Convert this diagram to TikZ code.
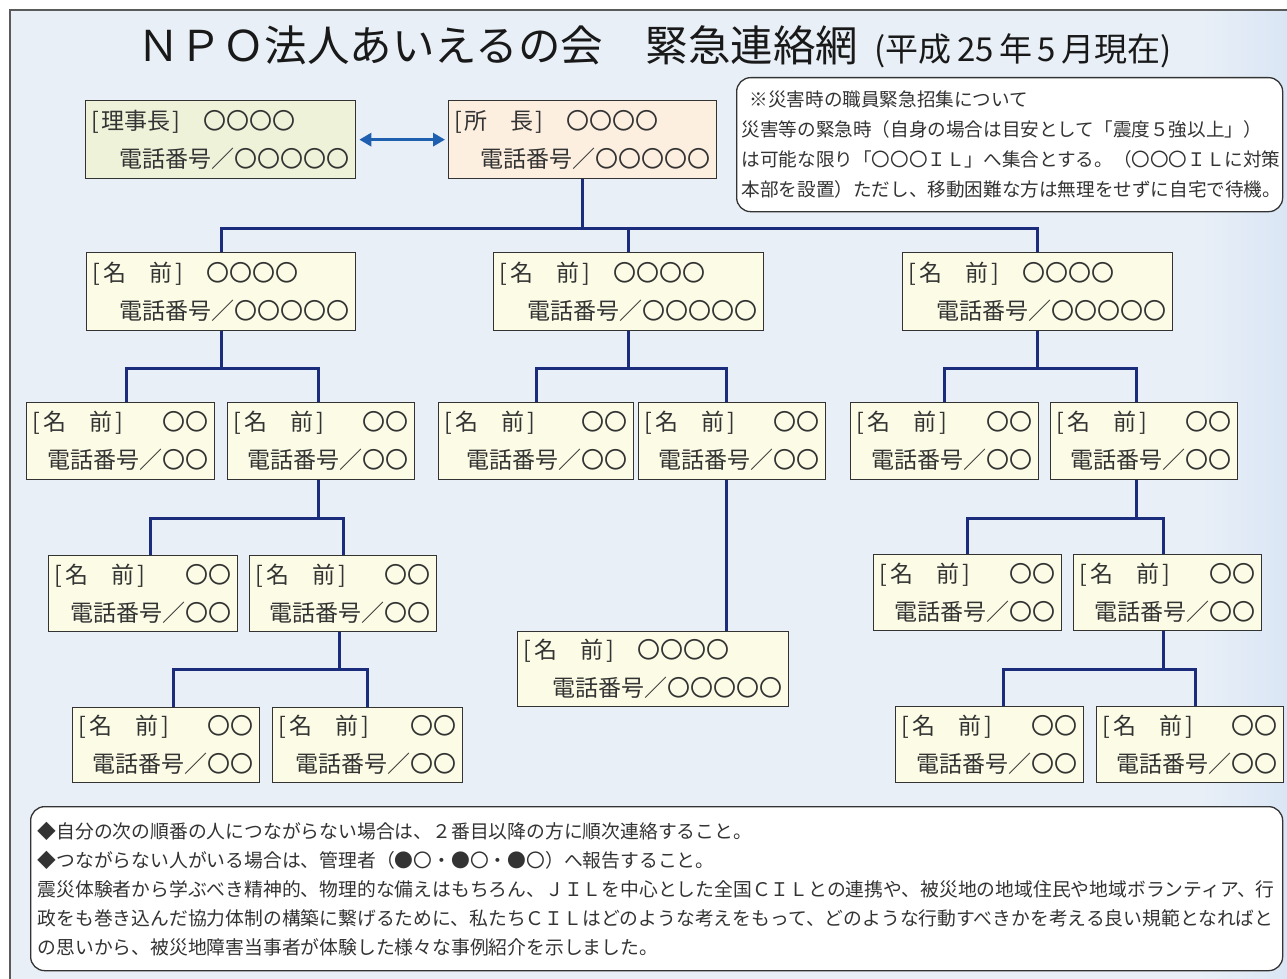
\documentclass[tikz,border=0pt]{standalone}
\usepackage{fontspec}
\setmainfont{Noto Sans CJK JP}
\usetikzlibrary{arrows.meta}
\definecolor{bgc}{HTML}{E8EFF7}
\definecolor{bgc2}{HTML}{DAE6F5}
\definecolor{framec}{HTML}{5A5A5A}
\definecolor{connc}{HTML}{1C2C7C}
\definecolor{arrowc}{HTML}{1F5FAF}
\definecolor{creamc}{HTML}{FCFCE6}
\definecolor{greenc}{HTML}{EDF2D9}
\definecolor{peachc}{HTML}{FCEFE0}
\definecolor{txtc}{HTML}{333333}
\tikzset{
  pbox/.style={draw=black!80, line width=1.3pt, text=txtc, inner xsep=6pt, inner ysep=0pt,
    anchor=north west, align=left, font=\fontsize{23}{38}\selectfont},
  connl/.style={draw=connc, line width=3pt, line join=miter},
  dblarrow/.style={draw=arrowc, line width=3pt,
    {Triangle[length=12pt,width=13pt]}-{Triangle[length=12pt,width=13pt]},
    shorten <=3pt, shorten >=3pt},
  roundbox/.style={draw=black!80, line width=1.3pt, fill=white, rounded corners=14pt,
    anchor=north west, align=left, text=txtc, inner ysep=0pt}
}
\newcommand{\boxnode}[8]{%
  \pgfmathsetmacro{\myBW}{#4-#2}%
  \pgfmathsetmacro{\myBH}{#5-#3}%
  \pgfmathsetmacro{\myTW}{#4-#2-12}%
  \node[pbox, fill=#6, minimum width=\myBW pt, minimum height=\myBH pt, text width=\myTW pt] (#1) at (#2,#3)
   {\noindent\makebox[\hsize][l]{#7}\\\makebox[\hsize][r]{#8}};%
}
\newcommand{\nm}{[\kern3pt 名　前\kern3pt]}
\begin{document}
\begin{tikzpicture}[x=1pt,y=-1pt]
\useasboundingbox (0,0) rectangle (1287,979);
\fill[white] (0,0) rectangle (1287,979);
\fill[bgc] (10,10) rectangle (1287,979);
\shade[left color=bgc, right color=bgc2] (1200,10) rectangle (1287,979);
\draw[framec, line width=1.5pt] (1287,10) -- (10,10) -- (10,979);

% title
\node[anchor=base west, inner sep=0pt, text=black!90] (title) at (137,62)
  {{\fontsize{42.5}{50}\selectfont ＮＰＯ法人あいえるの会　緊急連絡網}\hspace{16pt}{\fontsize{33}{38}\selectfont (平成\,25\,年\,5\,月現在)}};

% note box
\node[roundbox, minimum width=546pt, minimum height=134pt, text width=536pt, inner xsep=5pt,
  font=\fontsize{18.6}{30}\selectfont] (note) at (736,77)
  {\hspace*{8pt}※災害時の職員緊急招集について\\
   災害等の緊急時（自身の場合は目安として「震度５強以上」）\\
   は可能な限り「〇〇〇ＩＬ」へ集合とする。（〇〇〇ＩＬに対策\\
   本部を設置）ただし、移動困難な方は無理をせずに自宅で待機。};

% bottom box
\node[roundbox, minimum width=1252pt, minimum height=164pt, text width=1238pt, inner xsep=7pt,
  font=\fontsize{18.8}{29}\selectfont] (foot) at (30,806)
  {◆自分の次の順番の人につながらない場合は、２番目以降の方に順次連絡すること。\\
   ◆つながらない人がいる場合は、管理者（●〇・●〇・●〇）へ報告すること。\\
   震災体験者から学ぶべき精神的、物理的な備えはもちろん、ＪＩＬを中心とした全国ＣＩＬとの連携や、被災地の地域住民や地域ボランティア、行\\
   政をも巻き込んだ協力体制の構築に繋げるために、私たちＣＩＬはどのような考えをもって、どのような行動すべきかを考える良い規範となればと\\
   の思いから、被災地障害当事者が体験した様々な事例紹介を示しました。};

% boxes
\boxnode{rji}{85}{100}{355}{178}{greenc}{[\kern2pt 理事長\kern2pt]　〇〇〇〇}{電話番号／〇〇〇〇〇}
\boxnode{sho}{448}{100}{716}{178}{peachc}{[\kern2pt 所　長\kern2pt]　〇〇〇〇}{電話番号／〇〇〇〇〇}
\boxnode{L1a}{86}{252}{355}{330}{creamc}{\nm　〇〇〇〇}{電話番号／〇〇〇〇〇}
\boxnode{L1b}{493}{252}{763}{330}{creamc}{\nm　〇〇〇〇}{電話番号／〇〇〇〇〇}
\boxnode{L1c}{902}{252}{1172}{330}{creamc}{\nm　〇〇〇〇}{電話番号／〇〇〇〇〇}
\boxnode{L2a}{26}{402}{214}{479}{creamc}{\nm\hfill〇〇}{電話番号／〇〇}
\boxnode{L2b}{227}{402}{414}{479}{creamc}{\nm\hfill〇〇}{電話番号／〇〇}
\boxnode{L2c}{438}{402}{633}{479}{creamc}{\nm\hfill〇〇}{電話番号／〇〇}
\boxnode{L2d}{638}{402}{825}{479}{creamc}{\nm\hfill〇〇}{電話番号／〇〇}
\boxnode{L2e}{850}{402}{1038}{479}{creamc}{\nm\hfill〇〇}{電話番号／〇〇}
\boxnode{L2f}{1050}{402}{1237}{479}{creamc}{\nm\hfill〇〇}{電話番号／〇〇}
\boxnode{L3a}{48}{555}{237}{631}{creamc}{\nm\hfill〇〇}{電話番号／〇〇}
\boxnode{L3b}{249}{555}{436}{631}{creamc}{\nm\hfill〇〇}{電話番号／〇〇}
\boxnode{L3c}{873}{554}{1061}{630}{creamc}{\nm\hfill〇〇}{電話番号／〇〇}
\boxnode{L3d}{1073}{554}{1261}{630}{creamc}{\nm\hfill〇〇}{電話番号／〇〇}
\boxnode{L3e}{517}{631}{788}{706}{creamc}{\nm　〇〇〇〇}{電話番号／〇〇〇〇〇}
\boxnode{L4a}{72}{707}{259}{782}{creamc}{\nm\hfill〇〇}{電話番号／〇〇}
\boxnode{L4b}{272}{707}{462}{782}{creamc}{\nm\hfill〇〇}{電話番号／〇〇}
\boxnode{L4c}{895}{706}{1083}{782}{creamc}{\nm\hfill〇〇}{電話番号／〇〇}
\boxnode{L4d}{1096}{706}{1283}{782}{creamc}{\nm\hfill〇〇}{電話番号／〇〇}

% arrow
\draw[dblarrow] (rji.east) -- (sho.west);

% bus levels
\coordinate (b0) at (0,228);
\coordinate (b1) at (0,368);
\coordinate (b2) at (0,518);
\coordinate (b3) at (0,669);

\draw[connl] (sho.south) -- (sho.south |- b0);
\draw[connl] (L1a.north) -- (L1a.north |- b0) -- (L1c.north |- b0) -- (L1c.north);
\draw[connl] (L1b.north) -- (L1b.north |- b0);

\draw[connl] (L1a.south) -- (L1a.south |- b1);
\draw[connl] ([xshift=6pt]L2a.north) -- ([xshift=6pt]L2a.north |- b1) -- ([xshift=-3pt]L2b.north |- b1) -- ([xshift=-3pt]L2b.north);
\draw[connl] (L1b.south) -- (L1b.south |- b1);
\draw[connl] (L2c.north) -- (L2c.north |- b1) -- ([xshift=-6pt]L2d.north |- b1) -- ([xshift=-6pt]L2d.north);
\draw[connl] (L1c.south) -- (L1c.south |- b1);
\draw[connl] (L2e.north) -- (L2e.north |- b1) -- ([xshift=-8pt]L2f.north |- b1) -- ([xshift=-8pt]L2f.north);

\draw[connl] ([xshift=-3pt]L2b.south) -- ([xshift=-3pt]L2b.south |- b2);
\draw[connl] ([xshift=7pt]L3a.north) -- ([xshift=7pt]L3a.north |- b2) -- (L3b.north |- b2) -- (L3b.north);
\draw[connl] ([xshift=-8pt]L2f.south) -- ([xshift=-8pt]L2f.south |- b2);
\draw[connl] (L3c.north) -- (L3c.north |- b2) -- ([xshift=-4pt]L3d.north |- b2) -- ([xshift=-4pt]L3d.north);

\draw[connl] ([xshift=-6pt]L2d.south) -- ([xshift=-6pt]L2d.south |- L3e.north);

\draw[connl] ([xshift=-4pt]L3b.south) -- ([xshift=-4pt]L3b.south |- b3);
\draw[connl] ([xshift=7pt]L4a.north) -- ([xshift=7pt]L4a.north |- b3) -- (L4b.north |- b3) -- (L4b.north);
\draw[connl] ([xshift=-4pt]L3d.south) -- ([xshift=-4pt]L3d.south |- b3);
\draw[connl] ([xshift=14pt]L4c.north) -- ([xshift=14pt]L4c.north |- b3) -- ([xshift=5pt]L4d.north |- b3) -- ([xshift=5pt]L4d.north);
\end{tikzpicture}
\end{document}
